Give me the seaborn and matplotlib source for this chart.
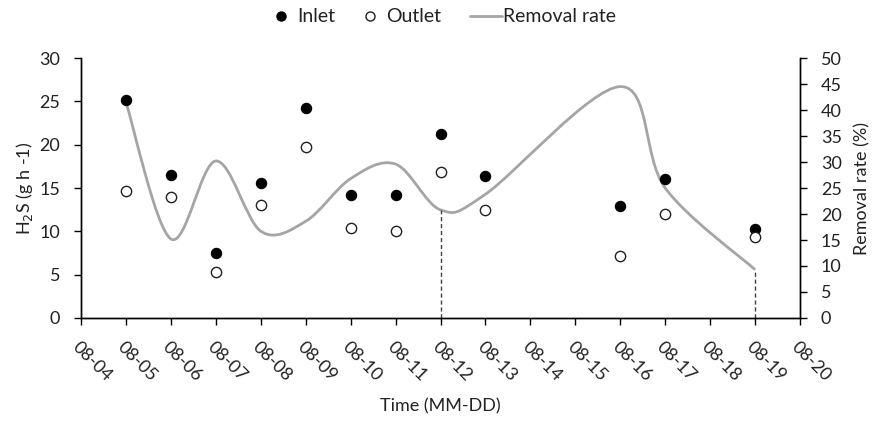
import numpy as np
import pandas as pd
import seaborn as sns
import matplotlib.pyplot as plt
from matplotlib.path import Path
from matplotlib.patches import PathPatch
from matplotlib.lines import Line2D

# ---- data ----
dates = ["08-05", "08-06", "08-07", "08-08", "08-09", "08-10",
         "08-11", "08-12", "08-13", "08-16", "08-17", "08-19"]
inlet = [25.1, 16.5, 7.5, 15.6, 24.2, 14.2, 14.2, 21.2, 16.4, 12.9, 16.0, 10.3]
outlet = [14.7, 14.0, 5.3, 13.0, 19.7, 10.4, 10.0, 16.8, 12.5, 7.2, 12.0, 9.3]
removal = [41.5, 15.2, 30.2, 16.7, 18.6, 26.8, 29.6, 20.8, 23.8, 44.5, 25.0, 9.3]
tick_labels = ["08-04", "08-05", "08-06", "08-07", "08-08", "08-09", "08-10",
               "08-11", "08-12", "08-13", "08-14", "08-15", "08-16", "08-17",
               "08-18", "08-19", "08-20"]
marked_dates = ["08-12", "08-19"]

FONT = ["Lato", "DejaVu Sans"]
sns.set_theme(style="ticks")
plt.rcParams["font.family"] = FONT
TXT = "#222222"
FS = 13
FS_LEG = 14

day = lambda s: int(s.split("-")[1])
df = pd.DataFrame({"x": [day(d) for d in dates], "inlet": inlet,
                   "outlet": outlet, "removal": removal})
tick_pos = [day(t) for t in tick_labels]

fig = plt.figure(figsize=(8.75, 4.23), dpi=100)
ax = fig.add_axes([81 / 875, 1 - 318 / 423, (800 - 81) / 875, (318 - 58) / 423])
ax2 = ax.twinx()

# removal-rate smoothed line (Bezier through the points, Excel style)
px = df["x"].to_numpy(float)
py = df["removal"].to_numpy(float)
n = len(px)
t = 1 / 6
verts = [(px[0], py[0])]
codes = [Path.MOVETO]
for i in range(n - 1):
    a = max(i - 1, 0)
    b = min(i + 2, n - 1)
    c1 = (px[i] + (px[i + 1] - px[a]) * t, py[i] + (py[i + 1] - py[a]) * t)
    c2 = (px[i + 1] - (px[b] - px[i]) * t, py[i + 1] - (py[b] - py[i]) * t)
    verts += [c1, c2, (px[i + 1], py[i + 1])]
    codes += [Path.CURVE4] * 3
ax2.add_patch(PathPatch(Path(verts, codes), facecolor="none",
                        edgecolor="#a5a5a5", lw=2.0, zorder=2))

# dashed markers
for d in marked_dates:
    r = df.loc[df["x"] == day(d), "removal"].iloc[0]
    ax2.vlines(day(d), 0, r, colors="#404040", linestyles=(0, (3, 2)), lw=1.0)

# scatter points
sns.scatterplot(data=df, x="x", y="inlet", ax=ax, color="black",
                edgecolor="black", s=55, zorder=4, linewidth=0.8)
sns.scatterplot(data=df, x="x", y="outlet", ax=ax, facecolor="white",
                edgecolor="#202020", s=55, zorder=4, linewidth=1.0)
ax.set_zorder(ax2.get_zorder() + 1)
ax.patch.set_visible(False)

ax.set_xlim(4, 20)
ax.set_ylim(0, 30)
ax2.set_ylim(0, 50)
ax.set_yticks(np.arange(0, 31, 5))
ax2.set_yticks(np.arange(0, 51, 5))
ax.set_xticks(tick_pos)
ax.set_xticklabels(tick_labels, rotation=-45, ha="left", va="top",
                   rotation_mode="anchor")
for a in (ax, ax2):
    a.tick_params(axis="both", direction="out", length=5, width=1,
                  color="black", labelsize=FS, labelcolor=TXT, pad=10)
    for s in a.spines.values():
        s.set_color("black")
        s.set_linewidth(1)
    a.spines["top"].set_visible(False)
ax.tick_params(axis="x", pad=10)

ax.set_xlabel("Time (MM-DD)", fontsize=FS, color=TXT, labelpad=10)
ax.set_ylabel("H$_2$S (g h -1)", fontsize=FS, color=TXT, labelpad=3)
ax2.set_ylabel("Removal rate (%)", fontsize=FS, color=TXT, labelpad=9)

# legend: three single-entry legends placed like the reference
entries = [
    (Line2D([], [], marker="o", ls="none", color="black", markersize=6.5),
     "Inlet", 273, 0.8, 0.43),
    (Line2D([], [], marker="o", ls="none", markerfacecolor="white",
            markeredgecolor="#202020", markersize=6.5),
     "Outlet", 362, 0.8, 0.43),
    (Line2D([], [], color="#a5a5a5", lw=2), "Removal rate", 470, 1.65, 0.05),
]
for h, lab, x0, hl, tp in entries:
    fig.legend([h], [lab], loc="center left",
               bbox_to_anchor=(x0 / 875, 1 - 17 / 423), frameon=False,
               fontsize=FS_LEG, handlelength=hl, handletextpad=tp,
               borderpad=0, borderaxespad=0, labelcolor=TXT)

fig.savefig("out.png", dpi=100)
